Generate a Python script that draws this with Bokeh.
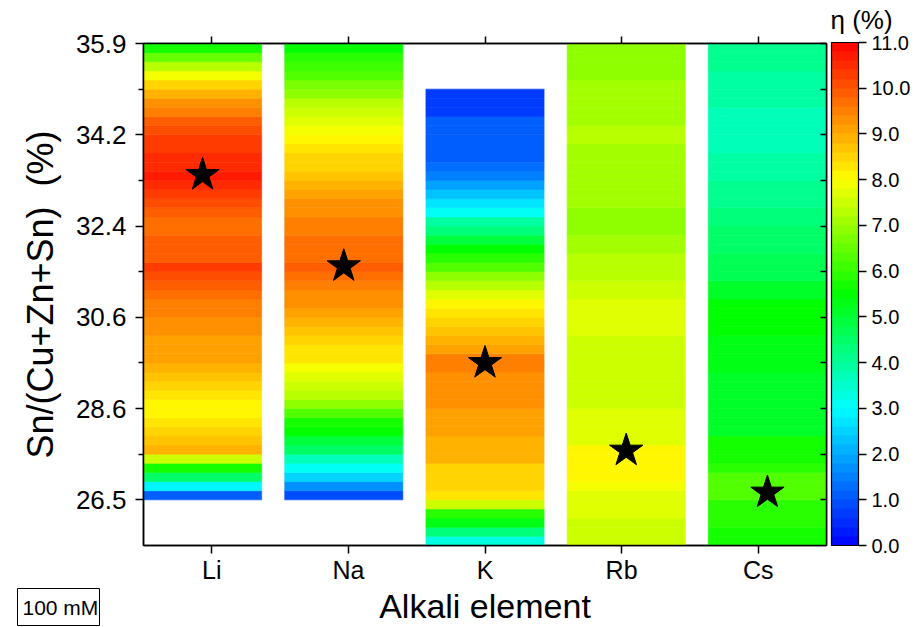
import numpy as np
from bokeh.plotting import figure
from bokeh.models import (ColumnDataSource, LinearColorMapper, ColorBar, FixedTicker,
                          LinearAxis, Range1d, PrintfTickFormatter, Title)
from bokeh.transform import transform
from bokeh.embed import file_html
from bokeh.resources import INLINE

# ---- data -------------------------------------------------------------------
elements = ["Li", "Na", "K", "Rb", "Cs"]
sn_tick_labels = ["26.5", "28.6", "30.6", "32.4", "34.2", "35.9"]

# lower end of each measured strip, in Sn-ratio tick units (0 = 26.5 %, 5 = 35.9 %)
strip_start = [0.0, 0.0, -0.5, -0.5, -0.5]
row_step = 0.1

# efficiency (%) along each strip, bottom to top
eta_li = [1.0, 2.8, 4.5, 5.6, 7.4, 8.8, 8.6, 8.4, 8.2, 8.0,
          8.1, 8.3, 8.5, 8.7, 8.85, 9.0, 9.1, 9.1, 9.25, 9.3,
          9.45, 9.55, 9.7, 9.85, 10.0, 10.2, 9.95, 9.9, 9.8, 9.7,
          9.75, 9.85, 10.0, 10.2, 10.5, 10.6, 10.55, 10.45, 10.3, 10.25,
          10.05, 9.85, 9.55, 9.3, 8.9, 8.4, 7.9, 7.2, 6.5, 5.7]
eta_na = [0.8, 1.7, 2.4, 3.0, 3.7, 4.4, 4.9, 5.4, 5.6, 6.2,
          6.9, 7.2, 7.4, 7.7, 7.8, 8.2, 8.3, 8.5, 8.7, 8.9,
          9.05, 9.2, 9.35, 9.5, 9.65, 9.8, 9.7, 9.6, 9.6, 9.55,
          9.45, 9.35, 9.2, 9.1, 8.95, 8.75, 8.55, 8.4, 8.25, 8.05,
          7.9, 7.7, 7.45, 7.2, 6.9, 6.6, 6.2, 6.0, 5.8, 5.5]
eta_k = [3.2, 4.2, 5.2, 5.8, 7.4, 8.2, 8.5, 8.5, 8.5, 8.8,
         8.8, 8.8, 9.0, 9.0, 9.0, 9.2, 9.2, 9.2, 9.2, 9.4,
         9.4, 9.1, 8.9, 8.7, 8.5, 8.3, 8.05, 7.7, 7.3, 6.8,
         6.2, 5.8, 5.4, 4.8, 4.3, 3.8, 3.1, 2.6, 2.3, 1.8,
         1.4, 1.3, 1.0, 1.0, 1.0, 1.0, 1.0, 0.7, 0.7, 0.7]
eta_rb = [7.5, 7.5, 7.5, 7.7, 7.7, 7.7, 7.85, 8.05, 8.05, 8.05,
          8.05, 7.65, 7.65, 7.65, 7.65, 7.5, 7.5, 7.5, 7.5, 7.4,
          7.4, 7.55, 7.55, 7.75, 7.75, 7.75, 7.75, 7.45, 7.45, 7.25,
          7.25, 7.25, 7.05, 7.05, 6.9, 6.9, 6.9, 7.1, 7.1, 7.1,
          7.1, 7.1, 7.1, 7.1, 7.2, 7.2, 7.1, 7.1, 7.1, 7.1,
          7.1, 6.9, 6.9, 6.9, 6.9]
eta_cs = [5.6, 5.6, 5.9, 5.9, 5.9, 6.2, 6.2, 6.2, 5.8, 5.6,
          5.6, 5.6, 5.1, 5.1, 5.1, 5.1, 5.0, 5.0, 5.0, 5.2,
          5.2, 5.2, 5.2, 5.4, 5.4, 5.4, 5.4, 5.0, 5.0, 4.7,
          4.7, 4.7, 4.5, 4.5, 4.5, 4.3, 4.3, 4.1, 4.1, 4.1,
          3.9, 3.9, 3.9, 3.75, 3.75, 3.75, 3.75, 3.75, 3.9, 3.9,
          3.9, 3.9, 4.0, 4.0, 4.0]
eta_columns = [eta_li, eta_na, eta_k, eta_rb, eta_cs]

# composition of the best cell for each alkali element (tick units)
best_position = [3.56, 2.56, 1.50, 0.54, 0.08]

# ---- colour scale -------------------------------------------------------------
eta_low, eta_high, n_levels = 0.0, 11.0, 55
stop_values = [0.0, 3.0, 5.5, 8.0, 11.0]
stop_rgb = [(0, 0, 255), (0, 255, 255), (0, 255, 0), (255, 255, 0), (255, 0, 0)]
level_mid = eta_low + (np.arange(n_levels) + 0.5) * (eta_high - eta_low) / n_levels
palette = []
for v in level_mid:
    r, g, b = (int(round(np.interp(v, stop_values, [c[k] for c in stop_rgb]))) for k in range(3))
    palette.append("#%02x%02x%02x" % (r, g, b))
mapper = LinearColorMapper(palette=palette, low=eta_low, high=eta_high)

# ---- layout constants (pixels) ------------------------------------------------------
W, H = 917, 627
FRAME_L, FRAME_R, FRAME_T, FRAME_B = 143, 826, 42, 545
Y_LO, Y_HI = -0.5, 5.0
n = len(elements)

# ---- strip geometry -------------------------------------------------------------
bar_w = 0.865
gap = (n - n * bar_w) / (n - 1)
cells = {"left": [], "right": [], "bottom": [], "top": [], "eta": []}
centers = []
for i, (start, etas) in enumerate(zip(strip_start, eta_columns)):
    left = i * (bar_w + gap)
    centers.append(left + bar_w / 2)
    for j, e in enumerate(etas):
        cells["left"].append(left)
        cells["right"].append(left + bar_w)
        cells["bottom"].append(start + j * row_step)
        cells["top"].append(start + (j + 1) * row_step)
        cells["eta"].append(e)
src = ColumnDataSource(cells)

FONT = "Liberation Sans"

p = figure(width=W, height=H, x_range=Range1d(0, n), y_range=Range1d(Y_LO, Y_HI),
           output_backend="svg", toolbar_location=None,
           min_border_left=FRAME_L, min_border_right=W - FRAME_R,
           min_border_top=FRAME_T, min_border_bottom=H - FRAME_B,
           background_fill_color="white", border_fill_color="white")
p.xgrid.visible = False
p.ygrid.visible = False
p.outline_line_color = "black"
p.outline_line_width = 1.5

p.quad(left="left", right="right", bottom="bottom", top="top", source=src,
       fill_color=transform("eta", mapper), line_color=transform("eta", mapper), line_width=0.6)

p.scatter(x=centers, y=best_position, marker="star", size=35, color="black")

# ---- axes -------------------------------------------------------------------------
x_ticks = [i + 0.5 for i in range(n)]
y_major = list(range(len(sn_tick_labels)))
y_minor = [k + 0.5 for k in range(len(sn_tick_labels) - 1)]

xa = p.xaxis[0]
xa.ticker = FixedTicker(ticks=x_ticks)
xa.major_label_overrides = {t: el for t, el in zip(x_ticks, elements)}
xa.axis_label = "Alkali element"

ya = p.yaxis[0]
ya.ticker = FixedTicker(ticks=y_major, minor_ticks=y_minor)
ya.major_label_overrides = {t: s for t, s in zip(y_major, sn_tick_labels)}
ya.axis_label = "Sn/(Cu+Zn+Sn) \u00a0(%)"

top = LinearAxis(ticker=FixedTicker(ticks=x_ticks), major_label_text_color=None,
                 major_label_text_font_size="1px", major_label_standoff=0)
right = LinearAxis(ticker=FixedTicker(ticks=y_major, minor_ticks=y_minor),
                   major_label_text_color=None, major_label_text_font_size="1px",
                   major_label_standoff=0)
p.add_layout(top, "above")
p.add_layout(right, "right")

for ax in (xa, ya, top, right):
    ax.axis_line_width = 1.5
    ax.axis_line_color = "black"
    ax.major_tick_line_width = 1.5
    ax.minor_tick_line_width = 1.5
    ax.major_tick_line_color = "black"
    ax.minor_tick_line_color = "black"
    ax.major_label_text_font = FONT
    ax.axis_label_text_font = FONT
    ax.axis_label_text_font_style = "normal"
    ax.axis_label_text_color = "black"

xa.major_label_text_color = "black"
ya.major_label_text_color = "black"

xa.major_tick_in, xa.major_tick_out = 0, 8
xa.major_label_text_font_size = "25px"
xa.major_label_standoff = 2
xa.axis_label_text_font_size = "34px"
xa.axis_label_standoff = 0

ya.major_tick_in, ya.major_tick_out = 0, 8
ya.minor_tick_in, ya.minor_tick_out = 0, 5
ya.major_label_text_font_size = "26px"
ya.major_label_standoff = 9
ya.axis_label_text_font_size = "36px"
ya.axis_label_standoff = 12

top.major_tick_in, top.major_tick_out = 0, 7
right.major_tick_in, right.major_tick_out = 6, 0
right.minor_tick_in, right.minor_tick_out = 6, 0

# ---- colour bar -----------------------------------------------------------------------
cb = ColorBar(color_mapper=mapper, ticker=FixedTicker(ticks=list(range(12))),
              formatter=PrintfTickFormatter(format="%.1f"),
              width=27, height=FRAME_B - FRAME_T, location=(831 - FRAME_L, 0),
              padding=0, margin=0,
              major_tick_in=0, major_tick_out=8, major_tick_line_color="black",
              major_tick_line_width=1.5, label_standoff=5,
              major_label_text_font=FONT, major_label_text_font_size="20px",
              major_label_text_color="black",
              bar_line_color="black", bar_line_width=1.2,
              background_fill_color=None, border_line_color=None)
p.add_layout(cb)

# colour-bar heading, set above the bar
cb_head = Title(text="η (%)", align="left", offset=830 - FRAME_L, standoff=4,
                text_font=FONT, text_font_size="26px", text_font_style="normal",
                text_color="black")
p.add_layout(cb_head, "above")

# boxed concentration tag under the y axis: a bar-less colour-bar box whose title is the tag
conc = ColorBar(color_mapper=mapper, orientation="horizontal", ticker=FixedTicker(ticks=[]),
                width=72, height=2, location=(17 - FRAME_L, FRAME_B - 625),
                padding=5, margin=0, scale_alpha=0, bar_line_color=None,
                major_tick_in=0, major_tick_out=0, minor_tick_in=0, minor_tick_out=0,
                major_tick_line_color=None, minor_tick_line_color=None,
                label_standoff=0, major_label_text_font_size="1px",
                major_label_text_color=None,
                title="100 mM", title_text_font=FONT, title_text_font_size="21px",
                title_text_font_style="normal", title_text_color="black", title_standoff=0,
                border_line_color="black", border_line_width=1, border_line_alpha=1,
                background_fill_color="white", background_fill_alpha=1)
p.add_layout(conc)

open("out.html", "w").write(file_html(p, INLINE))
